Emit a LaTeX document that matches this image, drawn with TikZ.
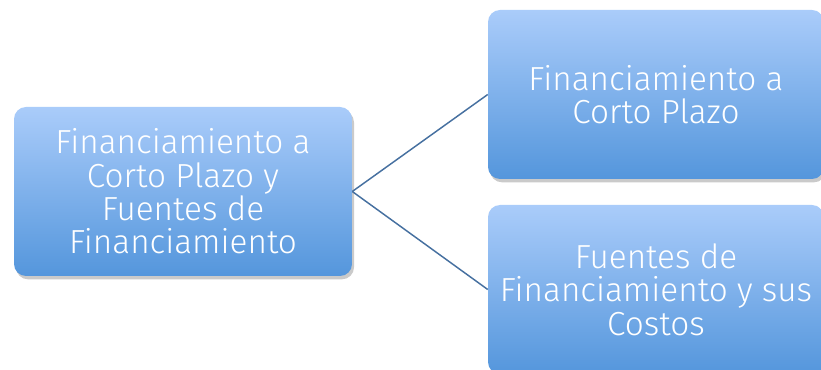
\documentclass[tikz,border=0pt]{standalone}
\usepackage{fontspec}
\setmainfont{Fira Sans Light}
\usepackage{tikz}
\usetikzlibrary{shadows}

\definecolor{boxtop}{RGB}{170,204,250}
\definecolor{boxbot}{RGB}{84,150,220}
\definecolor{linkblue}{RGB}{70,112,160}

\tikzset{
    topicbox/.style={rounded corners=9pt, top color=boxtop, bottom color=boxbot,
        draw=none, text=white, align=center, font=\fontsize{25}{25}\selectfont,
        inner sep=0pt,
        drop shadow={shadow xshift=1.5pt, shadow yshift=-2.5pt, opacity=0.35, fill=black!60}},
    linkline/.style={draw=linkblue, line width=1.1pt}
}

\begin{document}
\begin{tikzpicture}[x=0.75pt,y=0.75pt,yscale=-1,xscale=1]
        \useasboundingbox (0,0) rectangle (821,370);

        % Boxes
        \node [topicbox, minimum width=253.5pt, minimum height=126.75pt] (tema) at (183,191.5) {Financiamiento a\\Corto Plazo y\\Fuentes de\\Financiamiento};
        \node [topicbox, minimum width=252pt, minimum height=126.75pt] (corto) at (656,94.5) {Financiamiento a\\Corto Plazo};
        \node [topicbox, minimum width=252pt, minimum height=126.75pt] (fuentes) at (656,289.5) {Fuentes de\\Financiamiento y sus\\Costos};

        % Links
        \draw [linkline] (tema.east) -- (corto.west);
        \draw [linkline] (tema.east) -- (fuentes.west);
    \end{tikzpicture}
\end{document}
